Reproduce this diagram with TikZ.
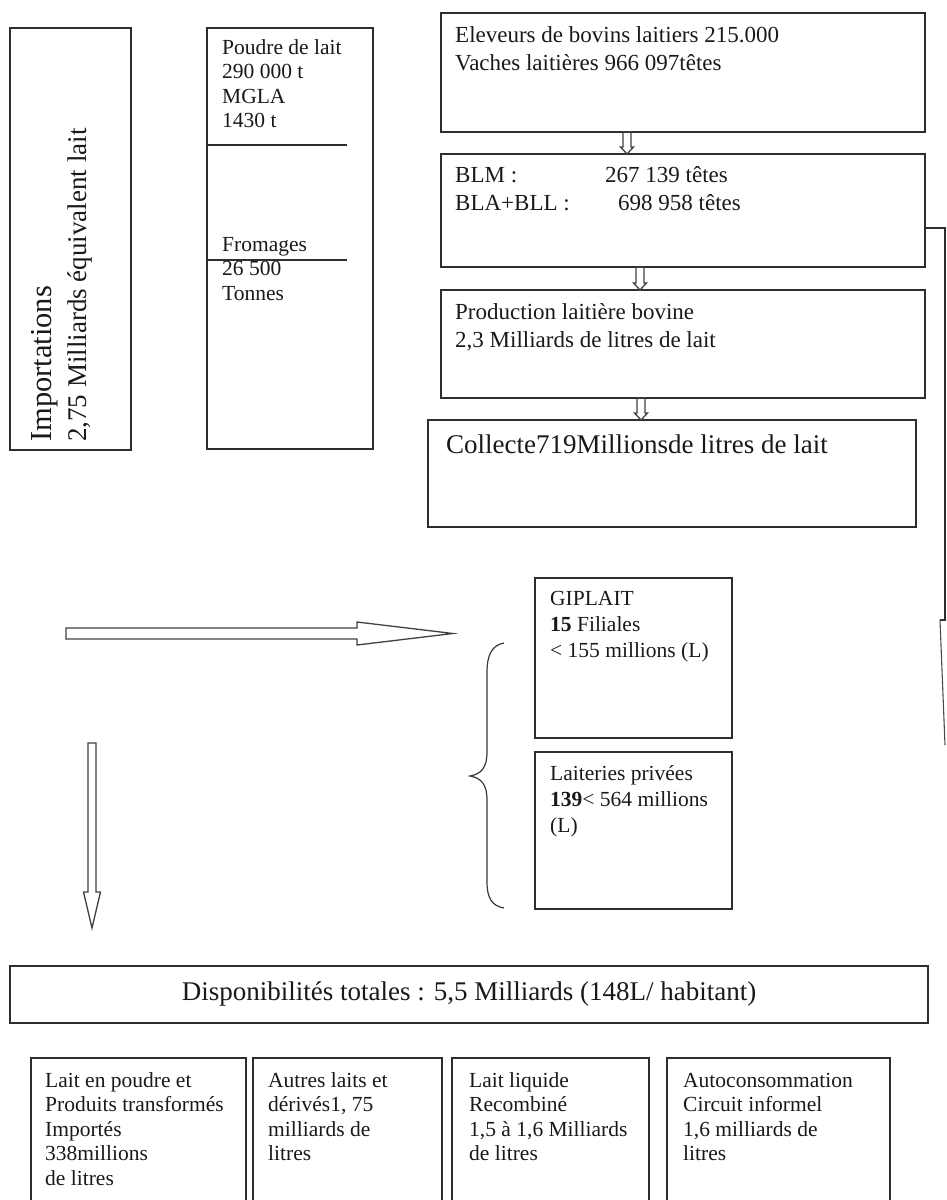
\documentclass[tikz,border=0pt]{standalone}
\usepackage{fontspec}
\setmainfont{Liberation Serif}
\usetikzlibrary{calc}
\newcommand\fsz[2]{\fontsize{#1}{#2}\selectfont}
\newcommand\blockdown[5]{\draw[arrowline] let \p1=(#1), \p2=(#2) in
  (\x1-#3,\y1) -- (\x1-#3,\y2+#5) -- (\x1-#4,\y2+#5) -- (\x1,\y2) --
  (\x1+#4,\y2+#5) -- (\x1+#3,\y2+#5) -- (\x1+#3,\y1) -- cycle;}
\begin{document}
\begin{tikzpicture}[x=1pt,y=-1pt,
  box/.style={draw=black!82, line width=1.5pt, anchor=north west, inner sep=0pt, outer sep=0pt},
  tx/.style={anchor=north west, inner sep=0pt, align=left, text=black!90},
  small/.style={tx, font=\fsz{21.5}{24.5}},
  smallb/.style={tx, font=\fsz{21.5}{26}},
  mid/.style={tx, font=\fsz{23}{28}},
  big/.style={tx, font=\fsz{27}{32}},
  arrowline/.style={draw=black!75, line width=1.3pt, line join=miter},
  conn/.style={draw=black!82, line width=1.5pt}]
\useasboundingbox (0,0) rectangle (946,1200);
\clip (0,0) rectangle (946,1200);

% left boxes
\node[box, minimum width=121, minimum height=422] (imp) at (10,28) {};
\node[tx, font=\fsz{28}{35}, rotate=90] (timp) at (26.5,442) {\strut{\fsz{30.5}{35}\selectfont Importations}\\{\fsz{27}{35}\selectfont 2,75 Milliards équivalent lait}};

\node[box, minimum width=166, minimum height=421] (poudre) at (207,28) {};
\draw[conn] ($(poudre.north west)+(0,117)$) coordinate (pl1) -- ++(140,0) coordinate (pl2);
\draw[conn] ($(poudre.north west)+(0,232)$) coordinate (pl3) -- ++(140,0) coordinate (pl4);
\node[small] (tpoudre) at (222,36.9) {\strut Poudre de lait\\290 000 t\\MGLA\\1430 t};
\node[small] (tfrom) at (222,233.9) {\strut Fromages\\26 500\\Tonnes};

% right column
\node[box, minimum width=484, minimum height=119] (elev) at (441,13) {};
\node[mid] (telev) at (455,22.4) {\strut Eleveurs de bovins laitiers 215.000\\Vaches laitières 966 097têtes};

\node[box, minimum width=484, minimum height=113] (blm) at (441,154) {};
\node[mid] (tblm) at (455,162.4) {\strut\makebox[150pt][l]{BLM :}267 139 têtes\\\makebox[163pt][l]{BLA+BLL :}698 958 têtes};

\node[box, minimum width=484, minimum height=108] (prod) at (441,290) {};
\node[mid] (tprod) at (455,299.4) {\strut Production laitière bovine\\2,3 Milliards de litres de lait};

\node[box, minimum width=488, minimum height=107] (coll) at (428,420) {};
\node[big] (tcoll) at (446,430.6) {\strut Collecte719Millionsde litres de lait};

% small arrows
\coordinate (s1) at ($(elev.south west)+(186,0)$);
\coordinate (e1) at (s1 |- blm.north);
\coordinate (s2) at ($(blm.south west)+(199,0)$);
\coordinate (e2) at (s2 |- prod.north);
\coordinate (s3) at ($(prod.south west)+(200,0)$);
\coordinate (e3) at (s3 |- coll.north);
\blockdown{s1}{e1}{4pt}{6.5pt}{7pt}
\blockdown{s2}{e2}{4pt}{6.5pt}{7pt}
\blockdown{s3}{e3}{4pt}{6.5pt}{7pt}

% right connector
\coordinate (rc0) at ([yshift=-17.5pt]blm.east);
\coordinate (rc1) at (945,620);
\coordinate (rc2) at (940,620);
\coordinate (rc3) at (945,745);
\draw[conn] (rc0) -| (rc1) -- (rc2);
\draw[draw=black!70, line width=1.1pt] (rc2) -- (rc3);

% big horizontal arrow
\coordinate (ha1) at (66,633.5);
\coordinate (ha2) at (453,633.5);
\draw[arrowline] let \p1=(ha1), \p2=(ha2) in
  (\x1,\y1+5.5pt) -- (\x2-96pt,\y1+5.5pt) -- (\x2-96pt,\y1+11.5pt) -- (\x2,\y1) --
  (\x2-96pt,\y1-11.5pt) -- (\x2-96pt,\y1-5.5pt) -- (\x1,\y1-5.5pt) -- cycle;

% big vertical arrow
\coordinate (va1) at (92,743);
\coordinate (va2) at (92,928);
\blockdown{va1}{va2}{4pt}{8.5pt}{36pt}

% brace
\coordinate (bt) at (504,643);
\coordinate (bb) at (504,908);
\coordinate (btip) at (470,776);
\draw[draw=black!78, line width=1.2pt] (bt) .. controls (492,645) and (487,655) .. (487,672) -- (487,752)
  .. controls (487,768) and (481,774) .. (btip) .. controls (481,778) and (487,784) .. (487,800)
  -- (487,882) .. controls (487,898) and (492,906) .. (bb);

% dairies
\node[box, minimum width=197, minimum height=160] (gip) at (535,578) {};
\node[smallb] (tgip) at (550,586.8) {\strut GIPLAIT\\\textbf{15} Filiales\\< 155 millions (L)};
\node[box, minimum width=197, minimum height=157] (lait) at (535,752) {};
\node[smallb] (tlait) at (550,761.8) {\strut Laiteries privées\\\textbf{139}< 564 millions\\(L)};

% totals
\node[box, minimum width=918, minimum height=57] (disp) at (10,966) {};
\node[tx, font=\fsz{27}{32}, anchor=center] (tdisp) at (469,994) {Disponibilités totales : 5,5 Milliards (148L/ habitant)};

% bottom boxes
\node[box, minimum width=215, minimum height=160] (b1) at (31,1058) {};
\node[box, minimum width=189, minimum height=160] (b2) at (253,1058) {};
\node[box, minimum width=197, minimum height=160] (b3) at (452,1058) {};
\node[box, minimum width=223, minimum height=160] (b4) at (667,1058) {};
\node[small] (tb1) at (45,1069.9) {\strut Lait en poudre et\\Produits transformés\\Importés\\338millions\\de litres};
\node[small] (tb2) at (268,1069.9) {\strut Autres laits et\\dérivés1, 75\\milliards de\\litres};
\node[small] (tb3) at (469,1069.9) {\strut Lait liquide\\Recombiné\\1,5 à 1,6 Milliards\\de litres};
\node[small] (tb4) at (683,1069.9) {\strut Autoconsommation\\Circuit informel\\1,6 milliards de\\litres};
\end{tikzpicture}
\end{document}
